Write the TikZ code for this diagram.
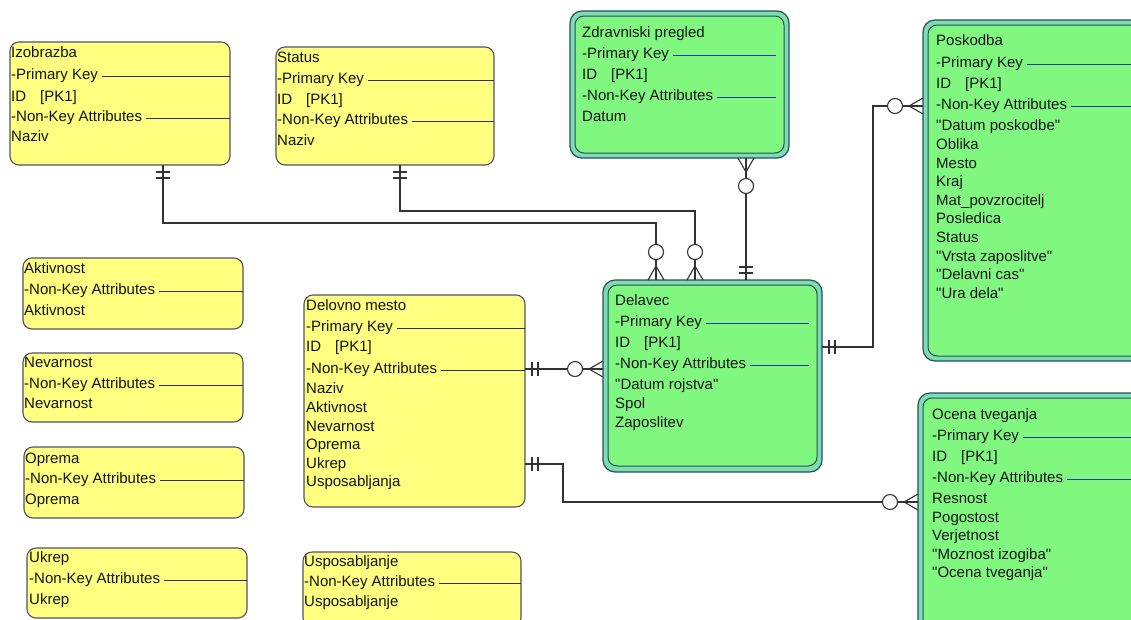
\documentclass[tikz,border=0pt]{standalone}
\usepackage{fontspec}
\setmainfont{Liberation Sans}[Ligatures=TeXOff]
\definecolor{yfill}{HTML}{FFFF80}
\definecolor{ybd}{HTML}{50506A}
\definecolor{ysepc}{HTML}{303048}
\definecolor{gin}{HTML}{80F880}
\definecolor{gout}{HTML}{7CDEAA}
\definecolor{gbd}{HTML}{2A4A6A}
\definecolor{gsepc}{HTML}{2838A8}
\definecolor{connc}{HTML}{333333}
\definecolor{txtc}{HTML}{141414}
\newcommand\dq{\symbol{34}}
\newcommand\ysepline[2]{\draw[ysep] ([xshift=4pt]#1.east) -- (#1.east -| #2.east);}
\newcommand\gsepline[2]{\draw[gsep] ([xshift=4pt]#1.east) -- ([xshift=-8pt]#1.east -| #2.east);}
\tikzset{
  ybox/.style={draw=ybd, fill=yfill, rounded corners=9pt, line width=1.1pt, anchor=north west, inner sep=0pt, outer sep=0pt},
  goutbox/.style={draw=gbd, fill=gout, rounded corners=12pt, line width=1.2pt, anchor=north west, inner sep=0pt, outer sep=0pt},
  ginbox/.style={draw=gbd, fill=gin, rounded corners=9pt, line width=1pt, anchor=north west, inner sep=0pt, outer sep=0pt},
  txt/.style={anchor=west, inner sep=0pt, text height=10.8pt, text depth=3pt, font=\fontsize{15pt}{17pt}\selectfont, text=txtc},
  ysep/.style={draw=ysepc, line width=1pt},
  gsep/.style={draw=gsepc, line width=1pt},
  conn/.style={draw=connc, line width=1.1pt},
  zmany/.pic={\draw[conn] (-14,0) -- (0,8) (-14,0) -- (0,-8);
              \draw[conn, fill=white] (-28,0) circle (7.5pt);},
  onebar/.pic={\draw[conn] (-7,-7) -- (-7,7) (-13,-7) -- (-13,7);}
}
\begin{document}
\begin{tikzpicture}[x=1pt,y=-1pt]
\clip (0,0) rectangle (1131,619);
\fill[white] (0,0) rectangle (1131,619);

% ---------- Izobrazba
\node[ybox, minimum width=220pt, minimum height=123pt] (izo) at (10,42) {};
\node[txt] (izo-t) at (11,54) {Izobrazba};
\node[txt] (izo-pk) at (11,76) {-Primary Key};
\node[txt] (izo-id) at (11,98) {ID\hspace{14pt}[PK1]};
\node[txt] (izo-nk) at (11,118) {-Non-Key Attributes};
\node[txt] (izo-a1) at (11,138) {Naziv};
\ysepline{izo-pk}{izo}
\ysepline{izo-nk}{izo}

% ---------- Status
\node[ybox, minimum width=218pt, minimum height=118pt] (sta) at (276,47) {};
\node[txt] (sta-t) at (277,59) {Status};
\node[txt] (sta-pk) at (277,80) {-Primary Key};
\node[txt] (sta-id) at (277,101) {ID\hspace{14pt}[PK1]};
\node[txt] (sta-nk) at (277,121) {-Non-Key Attributes};
\node[txt] (sta-a1) at (277,142) {Naziv};
\ysepline{sta-pk}{sta}
\ysepline{sta-nk}{sta}

% ---------- Delovno mesto
\node[ybox, minimum width=221pt, minimum height=212pt] (dm) at (304,295) {};
\node[txt] (dm-t) at (306,307) {Delovno mesto};
\node[txt] (dm-pk) at (306,328) {-Primary Key};
\node[txt] (dm-id) at (306,348) {ID\hspace{14pt}[PK1]};
\node[txt] (dm-nk) at (306,370) {-Non-Key Attributes};
\node[txt] (dm-a1) at (306,390) {Naziv};
\node[txt] (dm-a2) at (306,408.6) {Aktivnost};
\node[txt] (dm-a3) at (306,427.2) {Nevarnost};
\node[txt] (dm-a4) at (306,445.8) {Oprema};
\node[txt] (dm-a5) at (306,464.4) {Ukrep};
\node[txt] (dm-a6) at (306,483) {Usposabljanja};
\ysepline{dm-pk}{dm}
\ysepline{dm-nk}{dm}

% ---------- small lookup entities
\node[ybox, minimum width=220pt, minimum height=71pt] (akt) at (23,258) {};
\node[txt] (akt-t) at (24,270) {Aktivnost};
\node[txt] (akt-nk) at (24,291) {-Non-Key Attributes};
\node[txt] (akt-a1) at (24,312) {Aktivnost};
\ysepline{akt-nk}{akt}

\node[ybox, minimum width=220pt, minimum height=69pt] (nev) at (23,353) {};
\node[txt] (nev-t) at (24,364) {Nevarnost};
\node[txt] (nev-nk) at (24,385) {-Non-Key Attributes};
\node[txt] (nev-a1) at (24,405) {Nevarnost};
\ysepline{nev-nk}{nev}

\node[ybox, minimum width=220pt, minimum height=71pt] (opr) at (24,447) {};
\node[txt] (opr-t) at (25,460) {Oprema};
\node[txt] (opr-nk) at (25,480) {-Non-Key Attributes};
\node[txt] (opr-a1) at (25,501) {Oprema};
\ysepline{opr-nk}{opr}

\node[ybox, minimum width=220pt, minimum height=70pt] (ukr) at (27,548) {};
\node[txt] (ukr-t) at (29,559) {Ukrep};
\node[txt] (ukr-nk) at (29,580) {-Non-Key Attributes};
\node[txt] (ukr-a1) at (29,601) {Ukrep};
\ysepline{ukr-nk}{ukr}

\node[ybox, minimum width=218pt, minimum height=75pt] (usp) at (303,552) {};
\node[txt] (usp-t) at (304,563) {Usposabljanje};
\node[txt] (usp-nk) at (304,583) {-Non-Key Attributes};
\node[txt] (usp-a1) at (304,603) {Usposabljanje};
\ysepline{usp-nk}{usp}

% ---------- Zdravniski pregled
\node[goutbox, minimum width=219pt, minimum height=147pt] (zdo) at (570,11) {};
\node[ginbox, minimum width=209pt, minimum height=137pt] (zd) at (575,16) {};
\node[txt] (zd-t) at (582,34) {Zdravniski pregled};
\node[txt] (zd-pk) at (582,55) {-Primary Key};
\node[txt] (zd-id) at (582,76) {ID\hspace{14pt}[PK1]};
\node[txt] (zd-nk) at (582,97) {-Non-Key Attributes};
\node[txt] (zd-a1) at (582,118) {Datum};
\gsepline{zd-pk}{zd}
\gsepline{zd-nk}{zd}

% ---------- Delavec
\node[goutbox, minimum width=219pt, minimum height=192pt] (dvo) at (603,280) {};
\node[ginbox, minimum width=209pt, minimum height=181pt] (dv) at (608,285) {};
\node[txt] (dv-t) at (615,302) {Delavec};
\node[txt] (dv-pk) at (615,323) {-Primary Key};
\node[txt] (dv-id) at (615,344) {ID\hspace{14pt}[PK1]};
\node[txt] (dv-nk) at (615,365) {-Non-Key Attributes};
\node[txt] (dv-a1) at (615,386) {\dq Datum rojstva\dq};
\node[txt] (dv-a2) at (615,405) {Spol};
\node[txt] (dv-a3) at (615,424) {Zaposlitev};
\gsepline{dv-pk}{dv}
\gsepline{dv-nk}{dv}

% ---------- Poskodba
\node[goutbox, minimum width=230pt, minimum height=341pt] (pko) at (923,20) {};
\node[ginbox, minimum width=220pt, minimum height=331pt] (pk) at (928,25) {};
\node[txt] (pk-t) at (936,42) {Poskodba};
\node[txt] (pk-pk) at (936,64) {-Primary Key};
\node[txt] (pk-id) at (936,85) {ID\hspace{14pt}[PK1]};
\node[txt] (pk-nk) at (936,106) {-Non-Key Attributes};
\node[txt] (pk-a1) at (936,127) {\dq Datum poskodbe\dq};
\node[txt] (pk-a2) at (936,145.6) {Oblika};
\node[txt] (pk-a3) at (936,164.2) {Mesto};
\node[txt] (pk-a4) at (936,182.8) {Kraj};
\node[txt] (pk-a5) at (936,201.4) {Mat\_povzrocitelj};
\node[txt] (pk-a6) at (936,220) {Posledica};
\node[txt] (pk-a7) at (936,238.6) {Status};
\node[txt] (pk-a8) at (936,257.2) {\dq Vrsta zaposlitve\dq};
\node[txt] (pk-a9) at (936,276) {\dq Delavni cas\dq};
\node[txt] (pk-a10) at (936,295) {\dq Ura dela\dq};
\gsepline{pk-pk}{pk}
\gsepline{pk-nk}{pk}

% ---------- Ocena tveganja
\node[goutbox, minimum width=235pt, minimum height=240pt] (oco) at (918,393) {};
\node[ginbox, minimum width=225pt, minimum height=230pt] (oc) at (923,398) {};
\node[txt] (oc-t) at (932,416) {Ocena tveganja};
\node[txt] (oc-pk) at (932,437) {-Primary Key};
\node[txt] (oc-id) at (932,458) {ID\hspace{14pt}[PK1]};
\node[txt] (oc-nk) at (932,479) {-Non-Key Attributes};
\node[txt] (oc-a1) at (932,500) {Resnost};
\node[txt] (oc-a2) at (932,518.5) {Pogostost};
\node[txt] (oc-a3) at (932,537) {Verjetnost};
\node[txt] (oc-a4) at (932,555.5) {\dq Moznost izogiba\dq};
\node[txt] (oc-a5) at (932,574) {\dq Ocena tveganja\dq};
\gsepline{oc-pk}{oc}
\gsepline{oc-nk}{oc}

% ---------- connector end points
\coordinate (izoS) at (163,165);
\coordinate (staS) at (400,165);
\coordinate (zdS) at (746,158);
\coordinate (dvN1) at (656,280);
\coordinate (dvN2) at (695,280);
\coordinate (dvN3) at (746,280);
\coordinate (dvE) at (822,347);
\coordinate (dvW) at (603,369);
\coordinate (pkW) at (923,106);
\coordinate (dmE1) at (525,369);
\coordinate (dmE2) at (525,464);
\coordinate (ocW) at (918,502);

% ---------- connectors
\draw[conn] (izoS) -- ++(0,58) -| (dvN1);
\draw[conn] (staS) -- ++(0,46) -| (dvN2);
\draw[conn] (zdS) -- (dvN3);
\draw[conn] (dvE) -- ++(51,0) |- (pkW);
\draw[conn] (dmE1) -- (dvW);
\draw[conn] (dmE2) -- ++(38,0) |- (ocW);

% ---------- cardinality symbols
\pic[rotate=90] at (izoS) {onebar};
\pic[rotate=-90] at (dvN1) {zmany};
\pic[rotate=90] at (staS) {onebar};
\pic[rotate=-90] at (dvN2) {zmany};
\pic[rotate=90] at (zdS) {zmany};
\pic[rotate=-90] at (dvN3) {onebar};
\pic[rotate=180] at (dvE) {onebar};
\pic at (pkW) {zmany};
\pic[rotate=180] at (dmE1) {onebar};
\pic at (dvW) {zmany};
\pic[rotate=180] at (dmE2) {onebar};
\pic at (ocW) {zmany};
\end{tikzpicture}
\end{document}
